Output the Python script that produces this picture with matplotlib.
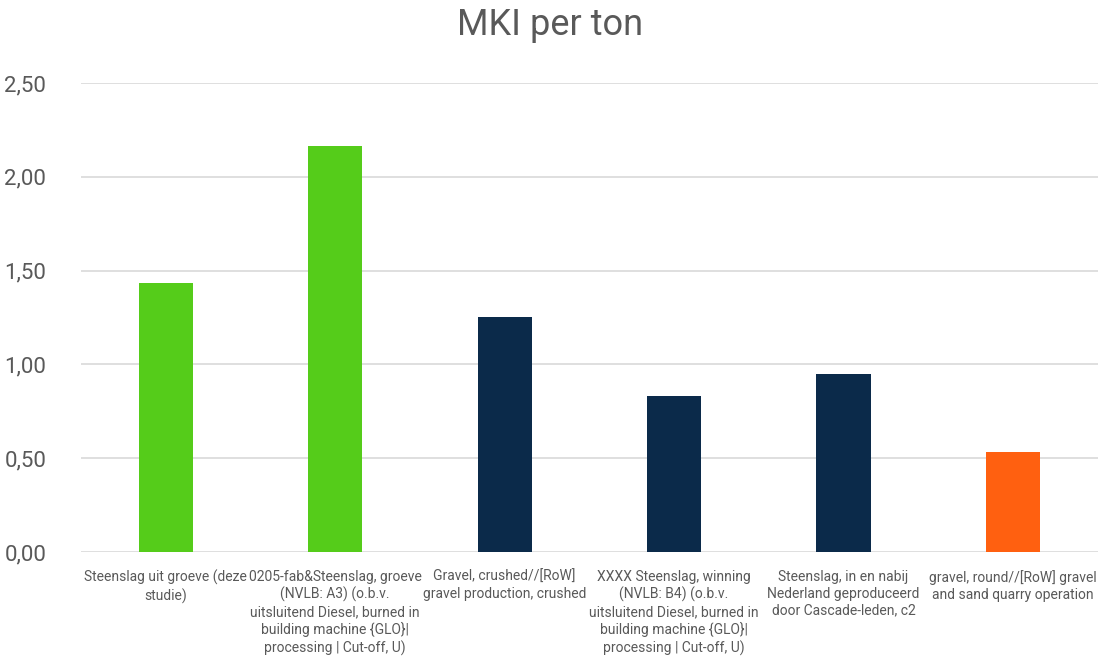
import matplotlib.pyplot as plt
from matplotlib.ticker import FuncFormatter

plt.rcParams['font.family'] = ['Roboto', 'DejaVu Sans']

labels = [
    'Steenslag uit groeve (deze\nstudie)',
    '0205-fab&Steenslag, groeve\n(NVLB: A3) (o.b.v.\nuitsluitend Diesel, burned in\nbuilding machine {GLO}|\nprocessing | Cut-off, U)',
    'Gravel, crushed//[RoW]\ngravel production, crushed',
    'XXXX Steenslag, winning\n(NVLB: B4) (o.b.v.\nuitsluitend Diesel, burned in\nbuilding machine {GLO}|\nprocessing | Cut-off, U)',
    'Steenslag, in en nabij\nNederland geproduceerd\ndoor Cascade-leden, c2',
    'gravel, round//[RoW] gravel\nand sand quarry operation',
]
values = [1.434, 2.164, 1.253, 0.832, 0.949, 0.533]
colors = ['#55CC1A', '#55CC1A', '#0B2A4A', '#0B2A4A', '#0B2A4A', '#FF6010']

fig = plt.figure(figsize=(11, 6.56), dpi=100)
ax = fig.add_axes([0.0736, 0.1585, 0.9244, 0.715])

x = range(len(values))
ax.bar(x, values, width=0.32, color=colors, zorder=3)

ax.set_xlim(-0.5, len(values) - 0.5)
ax.set_ylim(0, 2.5)
ax.set_yticks([0, 0.5, 1.0, 1.5, 2.0, 2.5])
ax.yaxis.set_major_formatter(FuncFormatter(lambda v, p: f'{v:.2f}'.replace('.', ',')))
ax.grid(axis='y', color='#D9D9D9', linewidth=1.2, zorder=0)
for s in ax.spines.values():
    s.set_visible(False)
ax.tick_params(axis='y', length=0, labelsize=16, colors='#595959', pad=25)
ax.tick_params(axis='x', length=0, colors='#595959', pad=13)
ax.set_xticks(list(x))
ax.set_xticklabels(labels, fontsize=10, color='#595959', linespacing=1.25, va='top')

fig.suptitle('MKI per ton', fontsize=26, color='#595959', y=0.99)

fig.savefig('out.png', dpi=100)
